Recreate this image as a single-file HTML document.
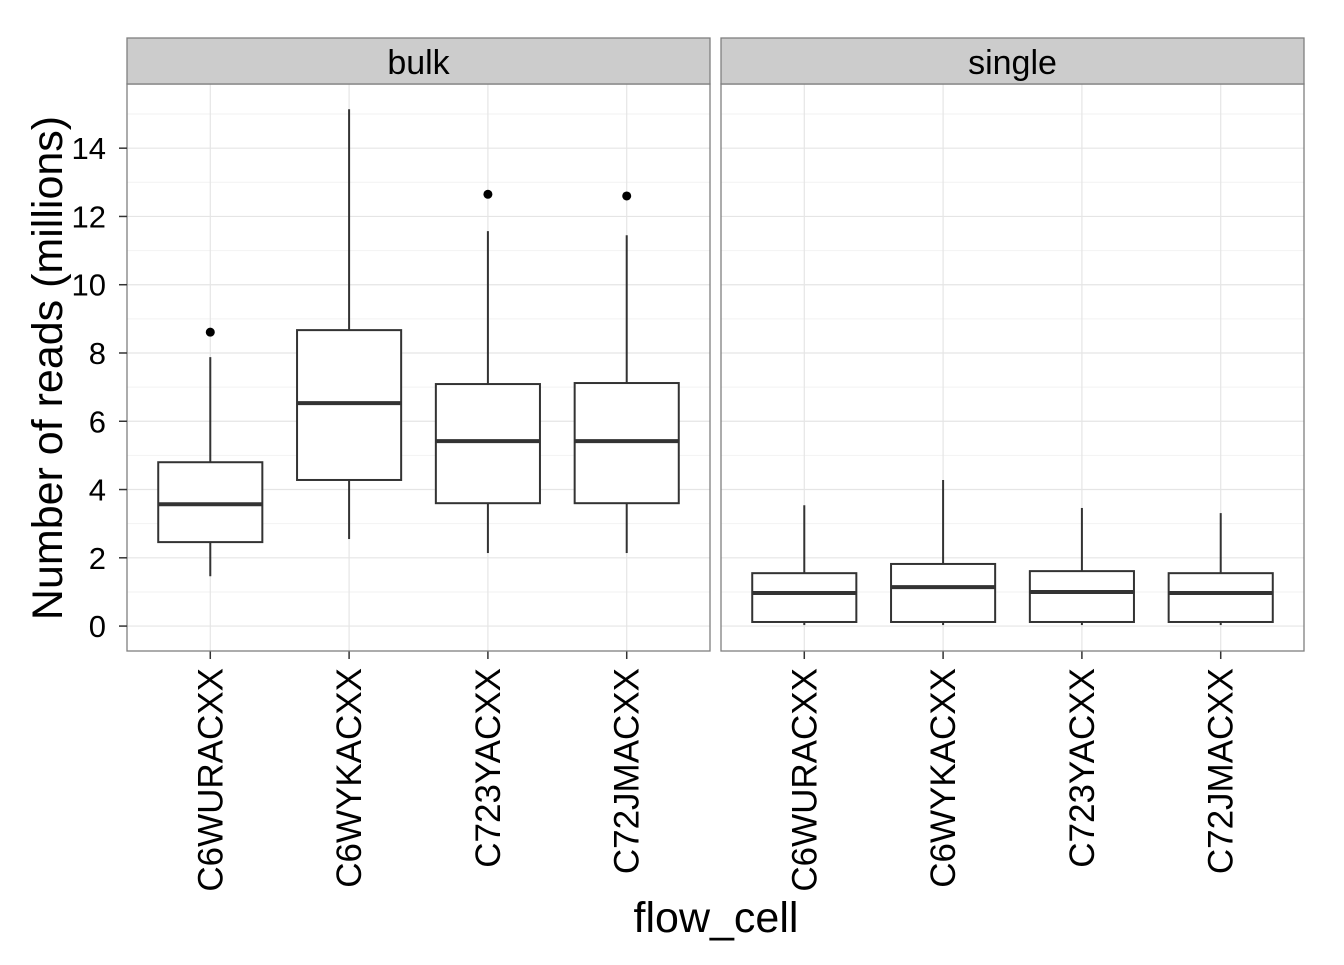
<!DOCTYPE html>
<html><head><meta charset="utf-8"><style>
body{margin:0;background:#fff}
svg text{font-family:"Liberation Sans",Arial,sans-serif}
</style></head><body>
<svg id="c" width="1344" height="960" xmlns="http://www.w3.org/2000/svg"></svg>
<script>
const categories=["C6WURACXX","C6WYKACXX","C723YACXX","C72JMACXX"];
const panels=["bulk","single"];
const bulkLow=[1.46,2.55,2.14,2.14];
const bulkQ1=[2.46,4.28,3.60,3.60];
const bulkMed=[3.57,6.53,5.42,5.42];
const bulkQ3=[4.80,8.67,7.09,7.12];
const bulkHigh=[7.88,15.14,11.57,11.45];
const bulkOut=[[8.61],[],[12.65],[12.6]];
const singleLow=[0.03,0.03,0.03,0.03];
const singleQ1=[0.12,0.12,0.12,0.12];
const singleMed=[0.97,1.14,1.0,0.97];
const singleQ3=[1.55,1.82,1.61,1.55];
const singleHigh=[3.54,4.28,3.46,3.31];
const singleOut=[[],[],[],[]];
const yTicks=[0,2,4,6,8,10,12,14];

const svg=document.getElementById('c');
const NS="http://www.w3.org/2000/svg";
function mk(t,a,p){const e=document.createElementNS(NS,t);for(const k in a)e.setAttribute(k,a[k]);(p||svg).appendChild(e);return e;}
const plotTop=84,plotBot=651,yMin=-0.73,yMax=15.88;
function y(v){return plotBot-(v-yMin)/(yMax-yMin)*(plotBot-plotTop);}
const pX=[127,721],pW=583;
function x(p,i){return pX[p]+(i+1-0.4)/4.2*pW;}
const data=[[bulkLow,bulkQ1,bulkMed,bulkQ3,bulkHigh,bulkOut],[singleLow,singleQ1,singleMed,singleQ3,singleHigh,singleOut]];
panels.forEach((name,p)=>{
  const g=mk('g',{});
  
  
  mk('rect',{x:pX[p],y:plotTop,width:pW,height:plotBot-plotTop,fill:'#fff'},g);
  for(let v=1;v<=15;v+=2){mk('line',{x1:pX[p],x2:pX[p]+pW,y1:y(v),y2:y(v),stroke:'#f2f2f2','stroke-width':1},g);}
  yTicks.forEach(v=>{mk('line',{x1:pX[p],x2:pX[p]+pW,y1:y(v),y2:y(v),stroke:'#e5e5e5','stroke-width':1.2},g);});
  categories.forEach((c,i)=>{mk('line',{x1:x(p,i),x2:x(p,i),y1:plotTop,y2:plotBot,stroke:'#e5e5e5','stroke-width':1.2},g);});
  const d=data[p];const bw=0.75/4.2*pW;
  categories.forEach((c,i)=>{
    const b=mk('g',{},g);
    
    
    const cx=x(p,i);
    mk('line',{x1:cx,x2:cx,y1:y(d[0][i]),y2:y(d[1][i]),stroke:'#333','stroke-width':2},b);
    mk('line',{x1:cx,x2:cx,y1:y(d[3][i]),y2:y(d[4][i]),stroke:'#333','stroke-width':2},b);
    mk('rect',{x:cx-bw/2,y:y(d[3][i]),width:bw,height:y(d[1][i])-y(d[3][i]),fill:'#fff',stroke:'#333','stroke-width':2},b);
    mk('line',{x1:cx-bw/2,x2:cx+bw/2,y1:y(d[2][i]),y2:y(d[2][i]),stroke:'#333','stroke-width':4},b);
    d[5][i].forEach(o=>{const pt=mk('circle',{cx:cx,cy:y(o),r:4.5,fill:'#000'},b);
      
      });
    mk('line',{x1:cx,x2:cx,y1:plotBot,y2:plotBot+8,stroke:'#333','stroke-width':1.5},g);
    const t=mk('text',{x:0,y:0,transform:`translate(${cx+12},668) rotate(-90)`,'text-anchor':'end','font-size':35,fill:'#000'},g);
    t.textContent=c;
    
    
  });
  mk('rect',{x:pX[p],y:plotTop,width:pW,height:plotBot-plotTop,fill:'none',stroke:'#7f7f7f','stroke-width':1.3},g);
  const s=mk('rect',{x:pX[p],y:38,width:pW,height:46,fill:'#cccccc',stroke:'#7f7f7f','stroke-width':1.3},g);
  
  
  const st=mk('text',{x:pX[p]+pW/2,y:74,'text-anchor':'middle','font-size':34,fill:'#000'},g);
  st.textContent=name;
  
  
});
yTicks.forEach(v=>{
  mk('line',{x1:119,x2:127,y1:y(v),y2:y(v),stroke:'#333','stroke-width':1.5});
  const t=mk('text',{x:106,y:y(v)+11,'text-anchor':'end','font-size':31,fill:'#000'});
  t.textContent=v;
  
  
});
const yt=mk('text',{transform:'translate(62,368) rotate(-90)','text-anchor':'middle','font-size':43,fill:'#000'});
yt.textContent='Number of reads (millions)';


const xt=mk('text',{x:716,y:932,'text-anchor':'middle','font-size':43,fill:'#000'});
xt.textContent='flow_cell';


</script>
</body></html>
